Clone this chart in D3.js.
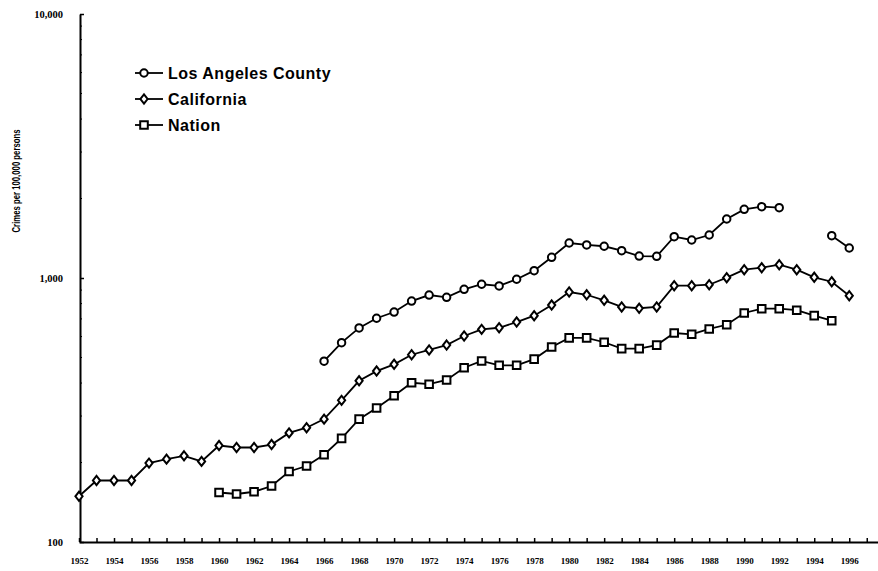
<!DOCTYPE html>
<html>
<head>
<meta charset="utf-8">
<script src="https://cdn.jsdelivr.net/npm/d3@7"></script>
<style>
  body { margin: 0; background: #fff; }
  svg { display: block; }
  .tick-label { font-family: "Liberation Serif", serif; font-weight: bold; }
</style>
</head>
<body>
<svg id="chart" width="878" height="571"></svg>
<script>
const years = d3.range(1952, 1997);

// values (crimes per 100,000 persons)
const laCounty = [
  null, null, null, null, null, null, null, null, null, null, null, null, null, null,
  484, 569, 647, 704, 743, 818, 862, 845, 906, 947, 933, 989, 1066, 1198,
  1357, 1334, 1319, 1269, 1211, 1208, 1434, 1393, 1455, 1673, 1820, 1863, 1847,
  null, null, 1446, 1299
];
const california = [
  149, 171, 171, 171, 199, 206, 212, 202, 232, 228, 228, 234, 259, 271,
  292, 344, 408, 444, 471, 512, 534, 557, 603, 639, 648, 681, 720, 790,
  885, 864, 823, 777, 768, 777, 935, 935, 943, 1003, 1075, 1094, 1123,
  1075, 1006, 968, 857
];
const nation = [
  null, null, null, null, null, null, null, null, 154, 152, 155, 163, 185, 194,
  214, 247, 292, 322, 358, 401, 396, 411, 457, 485, 467, 467, 493, 548,
  593, 593, 571, 540, 540, 557, 619, 612, 641, 665, 737, 765, 765,
  755, 720, 689, null
];

const seriesNames = ['Los Angeles County', 'California', 'Nation'];
const seriesValues = [laCounty, california, nation];
const seriesSymbols = ['circle', 'diamond', 'square'];

const yTicks = [100, 1000, 10000];
const yTickLabels = ['100', '1,000', '10,000'];

const svg = d3.select('#chart');

const x = d3.scaleLinear().domain([1952, 1997.7]).range([79, 879]);
const y = d3.scaleLog().domain([100, 10000]).range([542, 14]);

// y axis
const yAxis = svg.append('g')
  .attr('transform', 'translate(80,0)')
  .call(d3.axisLeft(y)
    .tickValues(yTicks)
    .tickFormat((d, i) => yTickLabels[i])
    .tickSizeInner(-4)
    .tickSizeOuter(0)
    .tickPadding(17));
yAxis.select('.domain').attr('stroke', '#000').attr('stroke-width', 2);
yAxis.selectAll('.tick line').attr('stroke', '#000').attr('stroke-width', 1.5);
yAxis.selectAll('.tick text')
  .attr('class', 'tick-label')
  .attr('font-size', 10.5)
  .attr('fill', '#000');

// minor log ticks on y axis
const minor = [];
[100, 1000].forEach((dec) => d3.range(2, 10).forEach((m) => minor.push(dec * m)));
svg.append('g').selectAll('line')
  .data(minor)
  .enter()
  .append('line')
  .attr('x1', 80).attr('x2', 82)
  .attr('y1', (d) => y(d)).attr('y2', (d) => y(d))
  .attr('stroke', '#000').attr('stroke-width', 1);

// x axis
const xAxis = svg.append('g')
  .attr('transform', 'translate(0,542)')
  .call(d3.axisBottom(x)
    .tickValues(d3.range(1952, 1998))
    .tickFormat((d) => (d % 2 === 0 && d <= 1996) ? d : '')
    .tickSizeInner(-4)
    .tickSizeOuter(0)
    .tickPadding(16));
xAxis.select('.domain').attr('stroke', '#000').attr('stroke-width', 2);
xAxis.selectAll('.tick line').attr('stroke', '#000').attr('stroke-width', 1.5);
xAxis.selectAll('.tick text')
  .attr('class', 'tick-label')
  .attr('font-size', 9)
  .attr('fill', '#000');

// y axis title
svg.append('text')
  .attr('transform', 'translate(20,181) rotate(-90)')
  .attr('text-anchor', 'middle')
  .attr('font-family', 'Liberation Sans, Arial, sans-serif')
  .attr('font-weight', 'bold')
  .attr('font-size', 10.5)
  .attr('textLength', 103)
  .attr('lengthAdjust', 'spacingAndGlyphs')
  .text('Crimes per 100,000 persons');

const symbolPath = {
  circle: d3.symbol(d3.symbolCircle, 44)(),
  diamond: 'M0,-4.6L3.6,0L0,4.6L-3.6,0Z',
  square: 'M-3.8,-3.8H3.8V3.8H-3.8Z',
};

const line = d3.line()
  .defined((d) => d.v != null)
  .x((d) => x(d.year))
  .y((d) => y(d.v));

seriesValues.forEach((vals, i) => {
  const pts = years.map((yr, j) => ({year: yr, v: vals[j]}));
  const g = svg.append('g');
  g.append('path')
    .datum(pts)
    .attr('d', line)
    .attr('fill', 'none')
    .attr('stroke', '#000')
    .attr('stroke-width', 1.8);
  g.selectAll('path.mark')
    .data(pts.filter((d) => d.v != null))
    .enter()
    .append('path')
    .attr('class', 'mark')
    .attr('d', symbolPath[seriesSymbols[i]])
    .attr('transform', (d) => `translate(${x(d.year)},${y(d.v)})`)
    .attr('fill', '#fff')
    .attr('stroke', '#000')
    .attr('stroke-width', 2);
});

// legend
const legend = svg.append('g').attr('transform', 'translate(135,73)');
const item = legend.selectAll('g')
  .data(seriesNames)
  .enter()
  .append('g')
  .attr('transform', (d, i) => `translate(0,${i * 26})`);
item.append('line')
  .attr('x1', 0).attr('x2', 28)
  .attr('stroke', '#000').attr('stroke-width', 1.8);
item.append('path')
  .attr('d', (d, i) => symbolPath[seriesSymbols[i]])
  .attr('transform', 'translate(9,0)')
  .attr('fill', '#fff')
  .attr('stroke', '#000')
  .attr('stroke-width', 2);
item.append('text')
  .attr('x', 33)
  .attr('dy', '0.36em')
  .attr('font-family', 'Liberation Sans, Arial, sans-serif')
  .attr('font-weight', 'bold')
  .attr('font-size', 16)
  .attr('letter-spacing', 0.5)
  .text((d) => d);
</script>
</body>
</html>
